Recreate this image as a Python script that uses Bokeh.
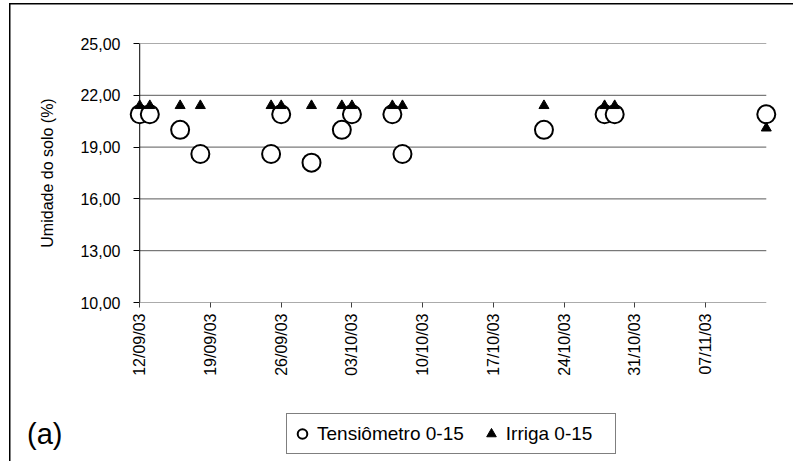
import math
import pandas as pd
from bokeh.plotting import figure
from bokeh.layouts import column
from bokeh.models import (Range1d, FixedTicker, DatetimeTickFormatter, CustomJSTickFormatter,
                          Legend, LegendItem, Span, ColumnDataSource)
from bokeh.embed import file_html
from bokeh.resources import INLINE

# ---------------- data ----------------
tens_dates = ["2003-09-12", "2003-09-13", "2003-09-16", "2003-09-18", "2003-09-25",
              "2003-09-26", "2003-09-29", "2003-10-02", "2003-10-03", "2003-10-07",
              "2003-10-08", "2003-10-22", "2003-10-28", "2003-10-29", "2003-11-13"]
tens_values = [20.9, 20.9, 20.0, 18.6, 18.6, 20.9, 18.1, 20.0, 20.9, 20.9,
               18.6, 20.0, 20.9, 20.9, 20.9]

irriga_dates = ["2003-09-12", "2003-09-13", "2003-09-16", "2003-09-18", "2003-09-25",
                "2003-09-26", "2003-09-29", "2003-10-02", "2003-10-03", "2003-10-07",
                "2003-10-08", "2003-10-22", "2003-10-28", "2003-10-29", "2003-11-13"]
irriga_values = [21.4, 21.4, 21.4, 21.4, 21.4, 21.4, 21.4, 21.4, 21.4, 21.4,
                 21.4, 21.4, 21.4, 21.4, 20.1]

x_tick_labels = ["12/09/03", "19/09/03", "26/09/03", "03/10/03", "10/10/03",
                 "17/10/03", "24/10/03", "31/10/03", "07/11/03"]
y_ticks = [10, 13, 16, 19, 22, 25]
y_label = "Umidade do solo (%)"
series_names = ["Tensiômetro 0-15", "Irriga 0-15"]
panel_tag = "(a)"

# ---------------- build ----------------
FONT = "Liberation Sans"
GRID = "#595959"
W, H_MAIN, H_FOOT = 793, 405, 56
FRAME_LEFT = 127
tens_x = pd.to_datetime(tens_dates)
irr_x = pd.to_datetime(irriga_dates)
tick_dt = pd.to_datetime(x_tick_labels, format="%d/%m/%y")
tick_ms = [t.timestamp() * 1000.0 for t in tick_dt]

x_start = min(tens_x.min(), irr_x.min())
x_end = max(tens_x.max(), irr_x.max())
pad = pd.Timedelta(hours=29)  # room so the edge markers are not clipped

border_css = {
    "background-color": "white",
    "background-image": "linear-gradient(#000, #000), linear-gradient(#000, #000)",
    "background-repeat": "no-repeat",
}

p = figure(width=W, height=H_MAIN, x_axis_type="datetime",
           x_range=Range1d(start=x_start - pad, end=x_end + pad),
           y_range=Range1d(start=min(y_ticks), end=max(y_ticks)),
           output_backend="svg", toolbar_location=None,
           min_border_left=FRAME_LEFT, min_border_right=15, min_border_top=43,
           min_border_bottom=H_MAIN - 302)
p.outline_line_color = None
p.background_fill_color = "white"
p.border_fill_color = None
p.styles = dict(border_css, **{
    "background-position": "9px 3px, 9px 3px",
    "background-size": "1.5px 100%, 100% 1.5px"})

# y axis (its line is a span at the first date)
p.yaxis.ticker = FixedTicker(ticks=y_ticks, minor_ticks=[])
p.yaxis.formatter = CustomJSTickFormatter(code="return tick.toFixed(2).replace('.', ',')")
p.yaxis.major_tick_out = -6
p.yaxis.major_tick_in = 12
p.yaxis.minor_tick_out = 0
p.yaxis.minor_tick_in = 0
p.yaxis.axis_line_color = None
p.yaxis.major_tick_line_color = "black"
p.yaxis.major_label_text_font = FONT
p.yaxis.major_label_text_font_size = "16px"
p.yaxis.major_label_text_color = "black"
p.yaxis.major_label_standoff = 7
p.yaxis.axis_label = y_label
p.yaxis.axis_label_text_font = FONT
p.yaxis.axis_label_text_font_size = "16px"
p.yaxis.axis_label_text_font_style = "normal"
p.yaxis.axis_label_text_color = "black"
p.yaxis.axis_label_standoff = 21
p.add_layout(Span(location=x_start.timestamp() * 1000.0, dimension="height",
                  line_color="black", line_width=1, level="underlay"))

# x axis
p.xaxis.ticker = FixedTicker(ticks=tick_ms, minor_ticks=[])
fmt = "%d/%m/%y"
p.xaxis.formatter = DatetimeTickFormatter(
    microseconds=fmt, milliseconds=fmt, seconds=fmt, minsec=fmt, minutes=fmt,
    hourmin=fmt, hours=fmt, days=fmt, months=fmt, years=fmt)
p.xaxis.major_label_orientation = math.pi / 2
p.xaxis.major_tick_out = 5
p.xaxis.major_tick_in = 0
p.xaxis.minor_tick_out = 0
p.xaxis.minor_tick_in = 0
p.xaxis.axis_line_color = None
p.xaxis.major_tick_line_color = "#404040"
p.xaxis.major_label_text_font = FONT
p.xaxis.major_label_text_font_size = "16px"
p.xaxis.major_label_text_color = "black"
p.xaxis.major_label_standoff = 6

# horizontal grid lines limited to the date span
p.xgrid.visible = False
p.ygrid.visible = False
n = len(y_ticks)
p.segment(x0=[x_start] * n, x1=[x_end] * n, y0=y_ticks, y1=y_ticks,
          line_color=GRID, line_width=1, level="underlay")

# series
circle_style = dict(marker="circle", size=18, fill_color="white", line_color="black", line_width=2)
tri_style = dict(marker="triangle", size=10, fill_color="black", line_color="black", line_width=1)
p.scatter("x", "y", source=ColumnDataSource(dict(x=tens_x, y=tens_values)), **circle_style)
p.scatter("x", "y", source=ColumnDataSource(dict(x=irr_x, y=irriga_values)), **tri_style)

# ---------------- footer: legend and panel tag ----------------
f = figure(width=W, height=H_FOOT, x_range=Range1d(0, W - FRAME_LEFT - 15),
           y_range=Range1d(0, H_FOOT),
           output_backend="svg", toolbar_location=None, x_axis_location=None,
           min_border_left=FRAME_LEFT, min_border_right=15, min_border_top=0,
           min_border_bottom=0)
f.xgrid.visible = False
f.ygrid.visible = False
f.outline_line_color = None
f.background_fill_color = None
f.border_fill_color = None
f.styles = dict(border_css, **{
    "background-image": "linear-gradient(#000, #000)",
    "background-position": "9px 0px",
    "background-size": "1.5px 100%"})

# the panel tag "(a)" is the footer's (otherwise empty) left axis label
f.yaxis.ticker = FixedTicker(ticks=[], minor_ticks=[])
f.yaxis.axis_line_color = None
f.yaxis.major_tick_out = 0
f.yaxis.major_tick_in = 0
f.yaxis.minor_tick_out = 0
f.yaxis.minor_tick_in = 0
f.yaxis.major_label_text_font_size = "0px"
f.yaxis.axis_label = panel_tag
f.yaxis.axis_label_text_font = FONT
f.yaxis.axis_label_text_font_size = "29px"
f.yaxis.axis_label_text_font_style = "normal"
f.yaxis.axis_label_text_color = "black"
f.yaxis.axis_label_standoff = 65
if "axis_label_orientation" in f.yaxis[0].properties():
    f.yaxis.axis_label_orientation = "horizontal"

nan_pt = dict(x=[float("nan")], y=[float("nan")])
lt = f.scatter("x", "y", source=ColumnDataSource(nan_pt), **circle_style)
li = f.scatter("x", "y", source=ColumnDataSource(dict(nan_pt)), **tri_style)

legend = Legend(items=[LegendItem(label=series_names[0], renderers=[lt]),
                       LegendItem(label=series_names[1], renderers=[li])],
                orientation="horizontal", location=(286 - FRAME_LEFT, 7),
                label_text_font=FONT, label_text_font_size="19px",
                label_text_color="black",
                glyph_width=24, glyph_height=33, label_height=33, label_width=106,
                padding=3, spacing=15, label_standoff=3, margin=0,
                border_line_color="black", border_line_width=1,
                background_fill_color="white", background_fill_alpha=1.0)
f.add_layout(legend)

open("out.html", "w").write(file_html(column(p, f, spacing=0), INLINE))
